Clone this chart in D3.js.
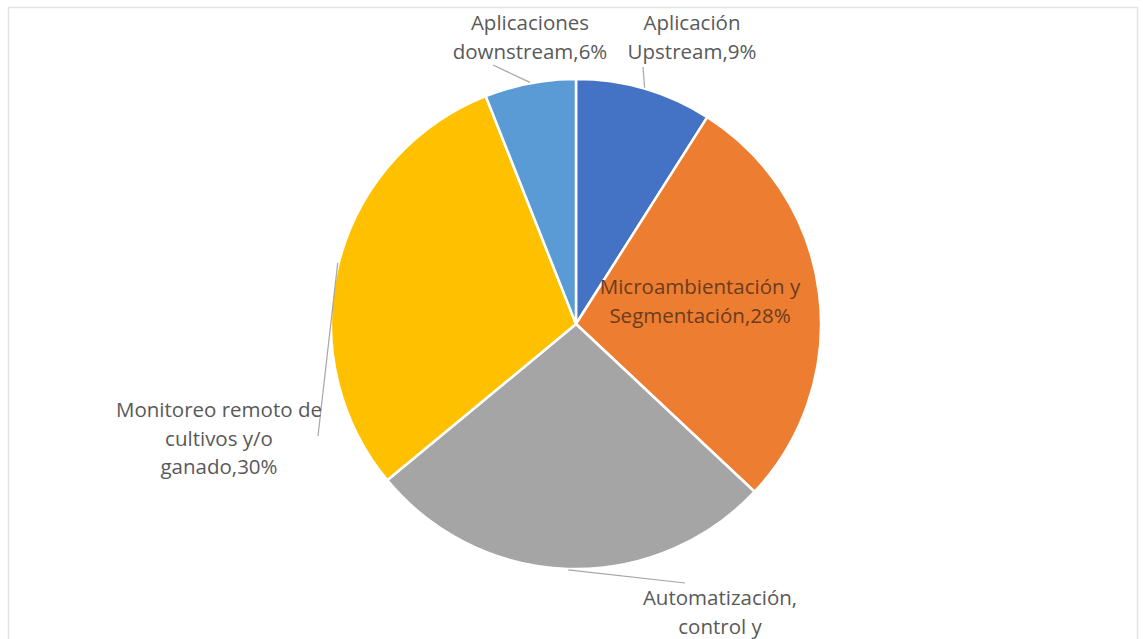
<!DOCTYPE html>
<html>
<head>
<meta charset="utf-8">
<script src="https://cdn.jsdelivr.net/npm/d3@7"></script>
<style>
  html, body { margin: 0; padding: 0; background: #ffffff; }
  svg { display: block; }
  text { font-family: "Open Sans", "Noto Sans", sans-serif; }
</style>
</head>
<body>
<svg id="chart" width="1143" height="639"></svg>
<script>
// Segment names (each label line separated) and shares in percent
const categories = [
  ["Aplicación", "Upstream,9%"],
  ["Microambientación y", "Segmentación,28%"],
  ["Automatización,", "control y", "robótica,27%"],
  ["Monitoreo remoto de", "cultivos y/o", "ganado,30%"],
  ["Aplicaciones", "downstream,6%"]
];
const values = [9, 28, 27, 30, 6];
const colors = ["#4472C4", "#ED7D31", "#A5A5A5", "#FFC000", "#5B9BD5"];

// Label placement: centre x and first baseline y, whether a leader line is drawn
const labelLayout = [
  { x: 692, y: 30, leader: [643, 67] },
  { x: 700, y: 294, leader: null, inside: true },
  { x: 720, y: 605, leader: [685, 583] },
  { x: 219, y: 417, leader: [318, 436] },
  { x: 530, y: 30, leader: [493, 65] }
];

const svg = d3.select("#chart");
const W = 1143, H = 639;
const cx = 576, cy = 324, R = 245;
const lineH = 28.5;

// Chart area frame
svg.append("rect")
  .attr("x", 8.5).attr("y", 7.5)
  .attr("width", 1129).attr("height", 700)
  .attr("fill", "none")
  .attr("stroke", "#e2e2e2")
  .attr("stroke-width", 1.5);

const pie = d3.pie().sort(null).value(d => d).startAngle(0).endAngle(2 * Math.PI);
const arcs = pie(values);
const arc = d3.arc().innerRadius(0).outerRadius(R);

const g = svg.append("g").attr("transform", `translate(${cx},${cy})`);

g.selectAll("path.slice")
  .data(arcs)
  .join("path")
  .attr("class", "slice")
  .attr("d", arc)
  .attr("fill", (d, i) => colors[i])
  .attr("stroke", "#ffffff")
  .attr("stroke-width", 2.5)
  .attr("stroke-linejoin", "round");

// Leader lines from the slice's mid-angle on the rim to the label
arcs.forEach((a, i) => {
  const L = labelLayout[i];
  if (!L.leader) return;
  const mid = (a.startAngle + a.endAngle) / 2;
  const sx = cx + (R + 1) * Math.sin(mid);
  const sy = cy - (R + 1) * Math.cos(mid);
  svg.append("line")
    .attr("x1", sx).attr("y1", sy)
    .attr("x2", L.leader[0]).attr("y2", L.leader[1])
    .attr("stroke", "#a6a6a6")
    .attr("stroke-width", 1.2);
});

// Data labels
categories.forEach((lines, i) => {
  const L = labelLayout[i];
  const t = svg.append("text")
    .attr("text-anchor", "middle")
    .attr("font-size", 20.5)
    .attr("fill", L.inside ? "#6b3c1c" : "#595959");
  lines.forEach((ln, k) => {
    t.append("tspan")
      .attr("x", L.x)
      .attr("y", L.y + k * lineH)
      .text(ln);
  });
});
</script>
</body>
</html>
